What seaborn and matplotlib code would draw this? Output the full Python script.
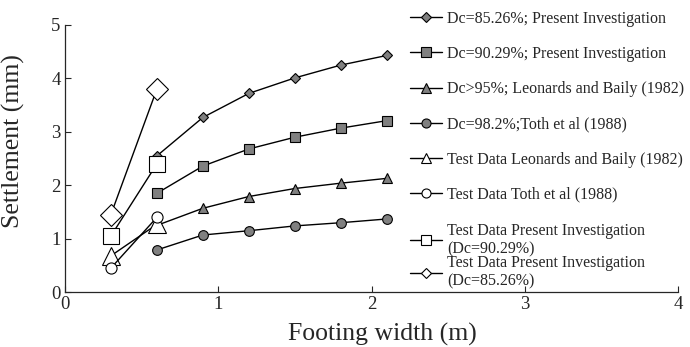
import numpy as np
import pandas as pd
import matplotlib
matplotlib.use("Agg")
import matplotlib.pyplot as plt
from matplotlib.lines import Line2D
import seaborn as sns

# data
width_model = [0.6, 0.9, 1.2, 1.5, 1.8, 2.1]
dc8526 = [2.55, 3.27, 3.72, 4.01, 4.25, 4.43]
dc9029 = [1.85, 2.36, 2.68, 2.90, 3.07, 3.21]
dc95 = [1.25, 1.57, 1.79, 1.94, 2.04, 2.13]
dc982 = [0.79, 1.07, 1.15, 1.24, 1.30, 1.37]

width_test = [0.3, 0.6]
test_leonards = [0.68, 1.27]
test_toth = [0.45, 1.40]
test_pi9029 = [1.05, 2.40]
test_pi8526 = [1.45, 3.80]

sns.set_style("ticks")
plt.rcParams['font.family'] = ['Liberation Serif', 'DejaVu Serif']

fig = plt.figure(figsize=(6.9, 3.47), dpi=100)
ax = fig.add_axes([0.094, 0.158, 0.889, 0.770])

grey = '#808080'
series = [
    (width_model, dc8526, 'D', 5, grey, 'Dc=85.26%; Present Investigation'),
    (width_model, dc9029, 's', 7, grey, 'Dc=90.29%; Present Investigation'),
    (width_model, dc95, '^', 7, grey, 'Dc>95%; Leonards and Baily (1982)'),
    (width_model, dc982, 'o', 7, grey, 'Dc=98.2%;Toth et al (1988)'),
    (width_test, test_leonards, '^', 13, 'white', 'Test Data Leonards and Baily (1982)'),
    (width_test, test_toth, 'o', 8, 'white', 'Test Data Toth et al (1988)'),
    (width_test, test_pi9029, 's', 12, 'white', 'Test Data Present Investigation\n(Dc=90.29%)'),
    (width_test, test_pi8526, 'D', 11, 'white', 'Test Data Present Investigation\n(Dc=85.26%)'),
]

proxies = []
for xs, ys, m, ms, fc, lab in series:
    df = pd.DataFrame({'x': xs, 'y': ys})
    sns.lineplot(data=df, x='x', y='y', ax=ax, color='black', lw=1,
                 marker=m, markersize=ms, markerfacecolor=fc,
                 markeredgecolor='black', markeredgewidth=0.8)
    proxies.append(Line2D([], [], color='black', lw=1, marker=m,
                          markersize=5 if m == 'D' else 6.5,
                          markerfacecolor=fc, markeredgecolor='black',
                          markeredgewidth=0.8))

ax.set_xlim(0, 4)
ax.set_ylim(0, 5)
ax.set_xticks([0, 1, 2, 3, 4])
ax.set_yticks([0, 1, 2, 3, 4, 5])
ax.tick_params(direction='in', length=4, labelsize=13.5, width=0.8, pad=3)
ax.set_xlabel('Footing width (m)', fontsize=18.5)
ax.set_ylabel('Settlement (mm)', fontsize=18.5)
ax.xaxis.set_label_coords(0.517, -0.115, transform=ax.transAxes)
ax.xaxis.label.set_va('top')
ax.yaxis.set_label_coords(-0.065, 0.566, transform=ax.transAxes)
for s in ax.spines.values():
    s.set_linewidth(0.9)
sns.despine(ax=ax)

labels = [s[5] for s in series]
leg_kw = dict(loc='upper left', bbox_transform=fig.transFigure, frameon=False,
              fontsize=11.5, handlelength=2.0, handletextpad=0.3, borderaxespad=0)
leg1 = ax.legend(proxies[:6], labels[:6], bbox_to_anchor=(0.585, 0.987),
                 labelspacing=1.2, **leg_kw)
ax.add_artist(leg1)
ax.legend(proxies[6:], labels[6:], bbox_to_anchor=(0.585, 0.377),
          labelspacing=-0.1, **leg_kw)

fig.savefig('out.png', dpi=100)
